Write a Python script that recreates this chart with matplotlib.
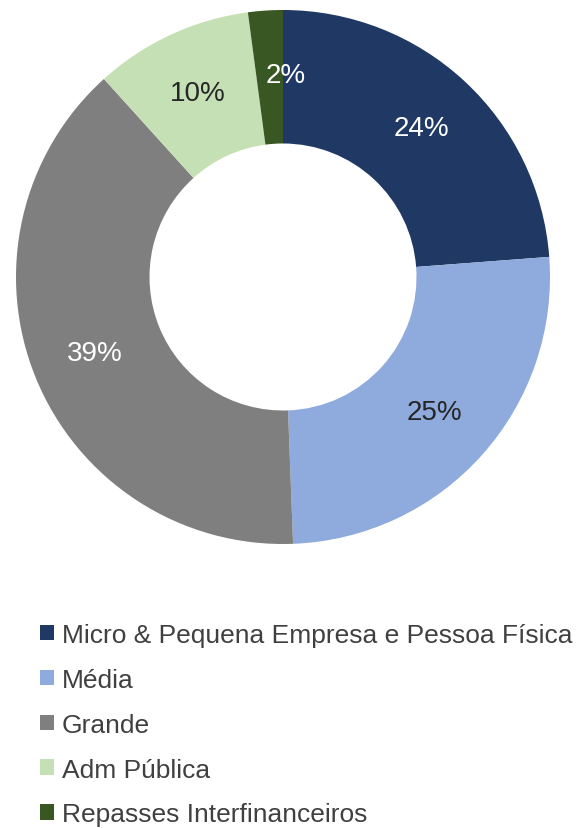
import matplotlib
matplotlib.use("Agg")
import matplotlib.pyplot as plt
import numpy as np

categories = ["Micro & Pequena Empresa e Pessoa Física", "Média", "Grande",
              "Adm Pública", "Repasses Interfinanceiros"]
values = [23.8, 25.6, 38.9, 9.6, 2.1]
labels_pct = ["24%", "25%", "39%", "10%", "2%"]
colors = ["#203864", "#8FAADC", "#7F7F7F", "#C5E0B4", "#385723"]
label_colors = ["white", "#262626", "white", "#262626", "white"]
label_dx = [0, 0, 0, 0, 0.06]

plt.rcParams['font.family'] = ['Liberation Sans', 'DejaVu Sans']

W, H = 576, 829
fig = plt.figure(figsize=(W / 100, H / 100), dpi=100)
ax = fig.add_axes([16 / W, 1 - 545 / H, 534 / W, 534 / H])

wedges, _ = ax.pie(values, colors=colors, startangle=90, counterclock=False,
                   radius=1.0, wedgeprops=dict(width=0.5, edgecolor='none'))
for w, lab, c, dx in zip(wedges, labels_pct, label_colors, label_dx):
    ang = np.deg2rad((w.theta1 + w.theta2) / 2)
    r = 0.76
    ax.text(r * np.cos(ang) + dx, r * np.sin(ang), lab, ha='center', va='center',
            fontsize=20, color=c)
ax.set_xlim(-1, 1)
ax.set_ylim(-1, 1)
ax.set_aspect('equal')
ax.axis('off')

leg = fig.legend(wedges, categories, loc='upper left',
                 bbox_to_anchor=(40 / W, 1 - 624 / H), frameon=False,
                 fontsize=19, handlelength=0.52, handleheight=0.52,
                 handletextpad=0.3, labelspacing=0.79, borderpad=0,
                 borderaxespad=0)
for t in leg.get_texts():
    t.set_color("#404040")

fig.savefig("out.png", dpi=100)
